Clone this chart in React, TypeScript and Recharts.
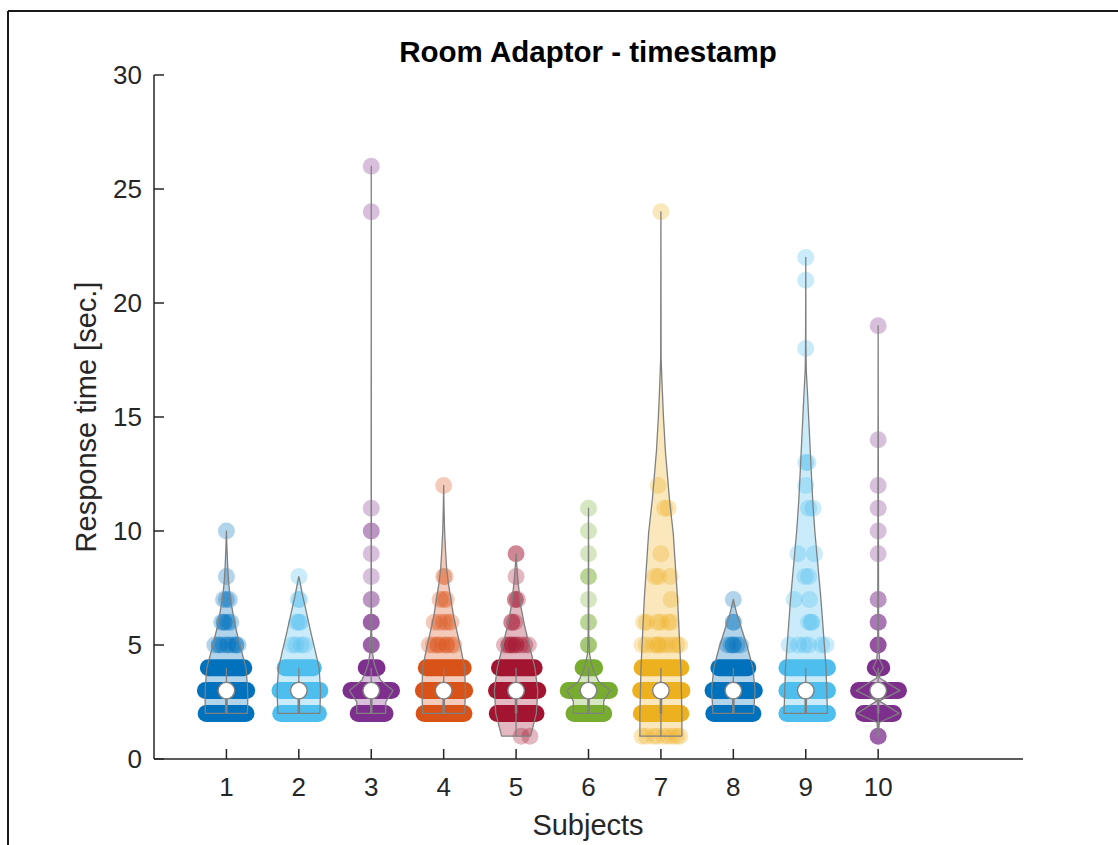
import React from 'react';
import { ScatterChart, Scatter, XAxis, YAxis } from 'recharts';

// subjects and their colours (MATLAB default palette, in the order used)
const subjects = [1, 2, 3, 4, 5, 6, 7, 8, 9, 10];
const subjectColors = ['#0072BD', '#4DBEEE', '#7E2F8E', '#D95319', '#A2142F', '#77AC30', '#EDB120', '#0072BD', '#4DBEEE', '#7E2F8E'];
const yTicks = [0, 5, 10, 15, 20, 25, 30];

// box plot stats per subject
const medians = [3, 3, 3, 3, 3, 3, 3, 3, 3, 3];
const boxLow = [2, 2, 2, 2, 2, 2, 2, 2, 2, 2];
const boxHigh = [3, 3, 3, 3, 3, 3, 3, 3, 3, 3];
const whiskerLow = [2, 2, 2, 2, 1, 2, 1, 2, 2, 1];
const whiskerHigh = [4, 4, 4, 4, 4, 4, 4, 4, 4, 4];

// violin outlines: [response time, half width]
const violin1 = [[2, 0.29], [2.6, 0.295], [3.2, 0.29], [4, 0.27], [4.6, 0.22], [5.2, 0.17], [5.8, 0.125], [6.4, 0.09], [7, 0.055], [7.7, 0.032], [8.4, 0.018], [9.2, 0.008], [10, 0]];
const violin2 = [[2, 0.29], [3, 0.3], [4, 0.28], [4.7, 0.23], [5.5, 0.17], [6.5, 0.1], [7.2, 0.05], [7.7, 0.02], [8, 0]];
const violin3 = [[2, 0.2], [2.5, 0.2], [3, 0.3], [3.45, 0.13], [3.8, 0.08], [4.2, 0.04], [4.6, 0.02], [5.5, 0.006], [7, 0.002], [26, 0]];
const violin4 = [[2, 0.29], [3, 0.3], [4, 0.29], [4.8, 0.24], [5.5, 0.19], [6.2, 0.14], [7, 0.1], [7.7, 0.065], [8.4, 0.04], [9.2, 0.025], [10, 0.013], [11, 0.005], [12, 0]];
const violin5 = [[1, 0.2], [1.5, 0.24], [2, 0.28], [3, 0.3], [4, 0.26], [4.9, 0.19], [5.8, 0.12], [6.7, 0.065], [7.7, 0.03], [8.5, 0.01], [9, 0]];
const violin6 = [[2, 0.21], [2.55, 0.21], [3, 0.3], [3.4, 0.14], [3.8, 0.08], [4.2, 0.04], [4.6, 0.015], [5.5, 0.004], [11, 0]];
const violin7 = [[1, 0.29], [2, 0.29], [4, 0.275], [7, 0.23], [9.9, 0.17], [11.4, 0.118], [13.5, 0.062], [15, 0.035], [16.5, 0.015], [17.6, 0.003], [24, 0]];
const violin8 = [[2, 0.28], [3, 0.3], [4, 0.27], [4.9, 0.195], [5.8, 0.105], [6.4, 0.045], [7, 0]];
const violin9 = [[2, 0.3], [4, 0.28], [7, 0.21], [10, 0.125], [11.4, 0.095], [13, 0.07], [15, 0.04], [16, 0.025], [17, 0.008], [18, 0.003], [22, 0]];
const violin10 = [[1, 0.005], [1.6, 0.015], [2, 0.29], [2.55, 0.015], [3, 0.3], [3.55, 0.02], [3.75, 0.02], [4, 0.07], [4.35, 0.02], [5, 0.006], [19, 0]];
const violins = [violin1, violin2, violin3, violin4, violin5, violin6, violin7, violin8, violin9, violin10];

// crowded rows where the jittered points merge into a bar: [response time, left, right]
const bands1 = [[2, -0.28, 0.27], [3, -0.29, 0.28], [4, -0.25, 0.24]];
const bands2 = [[2, -0.25, 0.27], [3, -0.26, 0.29], [4, -0.19, 0.2]];
const bands3 = [[2, -0.18, 0.19], [3, -0.28, 0.28], [4, -0.07, 0.08]];
const bands4 = [[2, -0.27, 0.28], [3, -0.28, 0.29], [4, -0.24, 0.27]];
const bands5 = [[2, -0.26, 0.275], [3, -0.27, 0.3], [4, -0.23, 0.25]];
const bands6 = [[2, -0.2, 0.21], [3, -0.28, 0.29], [4, -0.075, 0.085]];
const bands7 = [[2, -0.27, 0.275], [3, -0.28, 0.29], [4, -0.26, 0.275]];
const bands8 = [[2, -0.27, 0.27], [3, -0.28, 0.29], [4, -0.2, 0.2]];
const bands9 = [[2, -0.26, 0.3], [3, -0.26, 0.3], [4, -0.26, 0.3]];
const bands10 = [[2, -0.2, 0.21], [3, -0.27, 0.28], [4, -0.04, 0.05]];
const bands = [bands1, bands2, bands3, bands4, bands5, bands6, bands7, bands8, bands9, bands10];

// single points: [jitter, response time, how many sit on top of each other]
const dots1 = [[0, 10, 1], [0, 8, 1], [-0.04, 7, 1], [0, 7, 1], [0.04, 7, 1], [-0.065, 6, 1], [-0.03, 6, 2], [0.02, 6, 1], [0.06, 6, 1], [-0.16, 5, 1], [-0.1, 5, 2], [-0.04, 5, 1], [0.02, 5, 2], [0.08, 5, 1], [0.13, 5, 2], [0.16, 5, 1]];
const dots2 = [[0, 8, 1], [-0.01, 7, 1], [0.01, 7, 1], [-0.03, 6, 1], [0, 6, 1], [0.02, 6, 1], [-0.09, 5, 1], [-0.04, 5, 1], [0.03, 5, 1], [0.08, 5, 1]];
const dots3 = [[0, 26, 1], [0, 24, 1], [0, 11, 1], [0, 10, 2], [0, 9, 1], [0, 8, 1], [0, 7, 2], [0, 6, 4], [0, 5, 4]];
const dots4 = [[0, 12, 1], [0, 8, 1], [0.02, 8, 1], [-0.05, 7, 1], [0, 7, 1], [0.035, 7, 1], [-0.13, 6, 1], [-0.06, 6, 1], [0, 6, 1], [0.05, 6, 1], [0.1, 6, 1], [-0.2, 5, 1], [-0.14, 5, 1], [-0.08, 5, 2], [-0.02, 5, 1], [0.04, 5, 2], [0.1, 5, 1], [0.14, 5, 1]];
const dots5 = [[0, 9, 2], [0, 8, 1], [-0.01, 7, 2], [0.02, 7, 1], [-0.06, 6, 2], [-0.02, 6, 1], [-0.16, 5, 1], [-0.1, 5, 2], [-0.05, 5, 2], [0, 5, 2], [0.06, 5, 1], [0.12, 5, 1], [0.17, 5, 1], [0.07, 1, 1], [0.19, 1, 1]];
const dots6 = [[0, 11, 1], [0, 10, 1], [0, 9, 1], [0, 8, 2], [0, 7, 1], [0, 6, 2], [0, 5, 3]];
const dots7 = [[0, 24, 1], [-0.04, 12, 1], [0.05, 11, 1], [0.1, 11, 1], [0, 9, 1], [-0.08, 8, 1], [-0.03, 8, 1], [0.13, 8, 1], [0.14, 7, 1], [-0.24, 6, 1], [-0.2, 6, 1], [-0.05, 6, 1], [0, 6, 1], [0.1, 6, 1], [0.14, 6, 1], [-0.26, 5, 1], [-0.2, 5, 1], [-0.1, 5, 1], [-0.04, 5, 2], [0.02, 5, 1], [0.08, 5, 1], [0.15, 5, 1], [0.22, 5, 1], [0.26, 5, 1], [-0.26, 1, 1], [-0.2, 1, 1], [-0.1, 1, 1], [-0.05, 1, 1], [0.04, 1, 1], [0.1, 1, 1], [0.16, 1, 1], [0.22, 1, 1], [0.26, 1, 1]];
const dots8 = [[0, 7, 1], [0, 6, 2], [-0.08, 5, 1], [-0.03, 5, 1], [0, 5, 2], [0.05, 5, 1], [0.1, 5, 1]];
const dots9 = [[0, 22, 1], [0, 21, 1], [0, 18, 1], [0, 13, 1], [0.03, 13, 1], [0, 12, 1], [0.04, 11, 1], [0.1, 11, 1], [-0.11, 9, 1], [0.12, 9, 1], [-0.01, 8, 1], [0.04, 8, 1], [-0.16, 7, 1], [0.05, 7, 1], [0.04, 6, 1], [0.08, 6, 2], [-0.23, 5, 1], [-0.1, 5, 1], [-0.02, 5, 1], [0.04, 5, 1], [0.22, 5, 1], [0.28, 5, 1]];
const dots10 = [[0, 19, 1], [0, 14, 1], [0, 12, 1], [0, 11, 1], [0, 10, 1], [0, 9, 1], [0, 7, 2], [0, 6, 3], [0, 5, 5], [0, 1, 4]];
const dots = [dots1, dots2, dots3, dots4, dots5, dots6, dots7, dots8, dots9, dots10];

const GREY = '#808080';
const INK = '#262626';
const FONT = '"Liberation Sans", Arial, Helvetica, sans-serif';
const DOT_R = 8.5;

const outlineOf = (s: number, v: number[][]) => {
  const right = v.map(([y, w]) => ({ x: s + w, y }));
  const left = [...v].reverse().map(([y, w]) => ({ x: s - w, y }));
  return [...right, ...left, right[0]];
};

const pathOf = (pts: any[]) => (pts || []).map((p, i) => `${i ? 'L' : 'M'}${p.x},${p.y}`).join(' ');

// draws pairs of points as separate segments
const segments = (color: string, width: number, cap: 'round' | 'butt') => (props: any) => {
  const pts = props.points || [];
  const out: React.ReactNode[] = [];
  for (let i = 0; i + 1 < pts.length; i += 2) {
    out.push(
      <line key={i} x1={pts[i].x} y1={pts[i].y} x2={pts[i + 1].x} y2={pts[i + 1].y} stroke={color} strokeWidth={width} strokeLinecap={cap} />
    );
  }
  return <g>{out}</g>;
};

const noShape = () => <g />;

const dotShape = (color: string) => (p: any) => {
  const n = p.payload?.n ?? p.n ?? 1;
  return <circle cx={p.cx} cy={p.cy} r={DOT_R} fill={color} fillOpacity={1 - Math.pow(0.7, n)} />;
};

const medianShape = (p: any) => <circle cx={p.cx} cy={p.cy} r={8.3} fill="#fff" stroke={GREY} strokeWidth={1.4} />;

const XTick = (p: any) => (
  <g>
    <line x1={p.x} x2={p.x} y1={p.y - 28} y2={p.y - 38} stroke={INK} strokeWidth={1.5} />
    <text x={p.x} y={p.y} textAnchor="middle" dominantBaseline="central" fontSize={26} fill={INK} fontFamily={FONT}>
      {p.payload.value}
    </text>
  </g>
);

const YTick = (p: any) => (
  <g>
    <line x1={p.x + 12} x2={p.x + 22} y1={p.y} y2={p.y} stroke={INK} strokeWidth={1.5} />
    <text x={p.x} y={p.y} textAnchor="end" dominantBaseline="central" fontSize={26} fill={INK} fontFamily={FONT}>
      {p.payload.value}
    </text>
  </g>
);

export default function App() {
  const whiskerData = subjects.flatMap((s, i) => [{ x: s, y: whiskerLow[i] }, { x: s, y: whiskerHigh[i] }]);
  const boxData = subjects.flatMap((s, i) => [{ x: s, y: boxLow[i] }, { x: s, y: boxHigh[i] }]);
  const medianData = subjects.map((s, i) => ({ x: s, y: medians[i] }));

  return (
    <div style={{ position: 'absolute', left: 0, top: 0, width: 1118, height: 845, overflow: 'hidden', background: '#fff' }}>
      <div style={{ position: 'absolute', left: 0, top: 0 }}>
        <ScatterChart width={1118} height={845} margin={{ top: 75, right: 95, bottom: 56, left: 94 }}>
          <XAxis
            type="number"
            dataKey="x"
            domain={[0, 12]}
            ticks={subjects}
            interval={0}
            height={30}
            axisLine={{ stroke: INK, strokeWidth: 1.5 }}
            tickLine={false}
            tickSize={0}
            tickMargin={28}
            tick={(p: any) => <XTick {...p} />}
          />
          <YAxis
            type="number"
            dataKey="y"
            domain={[0, 30]}
            ticks={yTicks}
            interval={0}
            width={60}
            axisLine={{ stroke: INK, strokeWidth: 1.5 }}
            tickLine={false}
            tickSize={0}
            tickMargin={12}
            tick={(p: any) => <YTick {...p} />}
          />

          {subjects.map((s, i) => (
            <Scatter
              key={'fill' + s}
              data={outlineOf(s, violins[i])}
              shape={noShape}
              line={(p: any) => <path d={pathOf(p.points)} fill={subjectColors[i]} fillOpacity={0.3} stroke="none" />}
              isAnimationActive={false}
            />
          ))}

          {subjects.map((s, i) => (
            <Scatter
              key={'band' + s}
              data={bands[i].flatMap(([y, l, r]) => [{ x: s + l, y }, { x: s + r, y }])}
              shape={noShape}
              line={segments(subjectColors[i], DOT_R * 2, 'round')}
              isAnimationActive={false}
            />
          ))}

          {subjects.map((s, i) => (
            <Scatter
              key={'dots' + s}
              data={dots[i].map(([dx, y, n]) => ({ x: s + dx, y, n }))}
              shape={dotShape(subjectColors[i])}
              isAnimationActive={false}
            />
          ))}

          {subjects.map((s, i) => (
            <Scatter
              key={'edge' + s}
              data={outlineOf(s, violins[i])}
              shape={noShape}
              line={(p: any) => <path d={pathOf(p.points)} fill="none" stroke={GREY} strokeWidth={1.3} strokeLinejoin="round" />}
              isAnimationActive={false}
            />
          ))}

          <Scatter data={whiskerData} shape={noShape} line={segments(GREY, 1.3, 'butt')} isAnimationActive={false} />
          <Scatter data={boxData} shape={noShape} line={segments(GREY, 2.6, 'butt')} isAnimationActive={false} />
          <Scatter data={medianData} shape={medianShape} isAnimationActive={false} />
        </ScatterChart>
      </div>

      <svg width={1118} height={845} style={{ position: 'absolute', left: 0, top: 0, pointerEvents: 'none' }}>
        <line x1={8} y1={11} x2={1118} y2={11} stroke="#1a1a1a" strokeWidth={2} />
        <line x1={8} y1={11} x2={8} y2={845} stroke="#1a1a1a" strokeWidth={2} />
        <text x={588} y={62} textAnchor="middle" fontSize={29.5} fontWeight="bold" fill="#000" fontFamily={FONT}>
          Room Adaptor - timestamp
        </text>
        <text x={588} y={835} textAnchor="middle" fontSize={29} fill={INK} fontFamily={FONT}>
          Subjects
        </text>
        <text transform="translate(96,417) rotate(-90)" textAnchor="middle" fontSize={29} fill={INK} fontFamily={FONT}>
          Response time [sec.]
        </text>
      </svg>
    </div>
  );
}
